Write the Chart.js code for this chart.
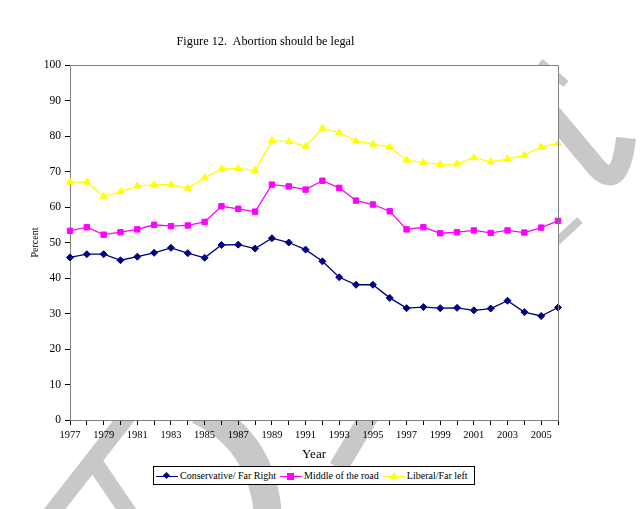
<!DOCTYPE html>
<html>
<head>
<meta charset="utf-8">
<script src="https://cdn.jsdelivr.net/npm/chart.js@4.4.1/dist/chart.umd.min.js"></script>
<style>
  body { margin: 0; background: #fff; }
  #wrap { position: relative; width: 640px; height: 509px; }
  #chart { position: absolute; left: 0; top: 0; }
  #title { position: absolute; left: 0; width: 531px; top: 34px; text-align: center;
           font: 12.3px "Liberation Serif", "Times New Roman", serif; color: #000; }
  #legend { position: absolute; left: 153px; top: 466px; width: 320px; height: 17px;
            border: 1px solid #000; background: #fff; display: flex; align-items: center;
            font: 10px "Liberation Serif", "Times New Roman", serif; color: #000; white-space: nowrap; }
  .item { display: flex; align-items: center; margin-left: 2px; margin-right: 2px; }
  .key { position: relative; width: 22px; height: 10px; margin-right: 2px; }
  .key i { position: absolute; left: 0; right: 0; top: 5px; height: 1px; }
  .key b { position: absolute; }
</style>
</head>
<body>
<div id="wrap">
  <canvas id="chart" width="640" height="509"></canvas>
  <div id="title">Figure 12.&nbsp; Abortion should be legal</div>
  <div id="legend"></div>
</div>
<script>
// -------------------- data --------------------
const years = [1977, 1978, 1979, 1980, 1981, 1982, 1983, 1984, 1985, 1986,
               1987, 1988, 1989, 1990, 1991, 1992, 1993, 1994, 1995, 1996,
               1997, 1998, 1999, 2000, 2001, 2002, 2003, 2004, 2005, 2006];
const seriesNames = ['Conservative/ Far Right', 'Middle of the road', 'Liberal/Far left'];
const conservative = [45.8, 46.7, 46.7, 45.0, 46.0, 47.1, 48.5, 47.0, 45.7, 49.3,
                      49.4, 48.3, 51.2, 50.0, 48.0, 44.7, 40.2, 38.1, 38.1, 34.4,
                      31.5, 31.8, 31.5, 31.6, 30.9, 31.4, 33.6, 30.4, 29.3, 31.7];
const middle = [53.3, 54.3, 52.2, 52.9, 53.7, 55.0, 54.6, 54.8, 55.8, 60.2,
                59.5, 58.7, 66.3, 65.8, 64.9, 67.4, 65.4, 61.8, 60.7, 58.8,
                53.7, 54.3, 52.6, 52.9, 53.4, 52.7, 53.4, 52.8, 54.2, 56.1];
const liberal = [67.0, 67.0, 63.0, 64.3, 65.9, 66.3, 66.3, 65.3, 68.2, 70.7,
                 70.8, 70.3, 78.7, 78.4, 77.1, 82.2, 80.9, 78.6, 77.7, 76.9,
                 73.2, 72.5, 72.0, 72.1, 73.9, 72.7, 73.5, 74.6, 76.9, 77.9];

const serif = '"Liberation Serif", "Times New Roman", serif';
const styles = [
  { color: '#000080', point: 'rectRot', radius: 3.5 },
  { color: '#FF00FF', point: 'rect', radius: 3.8 },
  { color: '#FFFF00', point: 'triangle', radius: 4 },
];

// grey watermark behind the chart, hidden by the white plot area
const watermark = {
  id: 'watermark',
  beforeDraw(chart) {
    const c = chart.ctx, a = chart.chartArea;
    c.save();
    c.strokeStyle = '#c8c8c8';
    c.lineCap = 'butt';
    const seg = (w, pts) => {
      c.lineWidth = w; c.beginPath(); c.moveTo(pts[0], pts[1]);
      if (pts.length === 4) c.lineTo(pts[2], pts[3]);
      else c.quadraticCurveTo(pts[2], pts[3], pts[4], pts[5]);
      c.stroke();
    };
    seg(17, [50, 515, 136, 405]);
    seg(17, [94, 462, 130, 515]);
    seg(28, [198, 410, 262, 440, 268, 515]);
    seg(19, [374, 408, 338, 468]);
    c.lineWidth = 20; c.beginPath();
    c.moveTo(540, 100); c.lineTo(597, 168); c.quadraticCurveTo(620, 192, 626, 138); c.stroke();
    seg(8, [540, 62, 566, 84]);
    seg(8, [580, 220, 540, 257]);
    c.fillStyle = '#fff';
    c.fillRect(a.left, a.top, a.right - a.left, a.bottom - a.top);
    c.restore();
  },
  afterDraw(chart) {
    const c = chart.ctx, a = chart.chartArea;
    c.save();
    c.strokeStyle = '#808080'; c.lineWidth = 1;
    c.beginPath();
    c.moveTo(a.left, a.top + 0.5); c.lineTo(a.right + 0.5, a.top + 0.5); c.lineTo(a.right + 0.5, a.bottom);
    c.stroke();
    c.restore();
  },
};

const seriesData = [conservative, middle, liberal];
new Chart(document.getElementById('chart'), {
  type: 'line',
  data: {
    labels: years.map(String),
    datasets: seriesData.map((d, i) => ({
      label: seriesNames[i], data: d,
      borderColor: styles[i].color, backgroundColor: styles[i].color,
      borderWidth: 1.3, pointStyle: styles[i].point, pointRadius: styles[i].radius,
      pointBorderWidth: 1, tension: 0, fill: false,
    })),
  },
  options: {
    responsive: false, animation: false, devicePixelRatio: 1,
    layout: { padding: { left: 0, top: 65, right: 82, bottom: 47 } },
    plugins: { legend: { display: false }, tooltip: { enabled: false } },
    scales: {
      x: {
        offset: false,
        afterFit: s => { s.height = 42; },
        border: { color: '#808080' },
        grid: { drawOnChartArea: false, tickLength: 5, color: '#000' },
        ticks: { autoSkip: false, maxRotation: 0, padding: 4, color: '#000',
                 font: { family: serif, size: 10.5 },
                 callback: (v, i) => (i % 2 === 0 ? years[i] : '') },
        title: { display: true, text: 'Year', color: '#000', font: { family: serif, size: 13 },
                 padding: { top: 4, bottom: 0 } },
      },
      y: {
        min: 0, max: 100,
        afterFit: s => { s.width = 70; },
        border: { color: '#808080' },
        grid: { drawOnChartArea: false, tickLength: 5, color: '#000' },
        ticks: { stepSize: 10, padding: 4, color: '#000', font: { family: serif, size: 11.5 } },
        title: { display: true, text: 'Percent', color: '#000', font: { family: serif, size: 10 },
                 padding: { top: 29, bottom: 0 } },
      },
    },
  },
  plugins: [watermark],
});

// html legend
const legend = document.getElementById('legend');
seriesNames.forEach((name, i) => {
  const st = styles[i];
  const item = document.createElement('span');
  item.className = 'item';
  let mark;
  if (st.point === 'rectRot') mark = `<b style="left:8px;top:2px;width:5px;height:5px;background:${st.color};transform:rotate(45deg)"></b>`;
  else if (st.point === 'rect') mark = `<b style="left:7px;top:2px;width:7px;height:7px;background:${st.color}"></b>`;
  else mark = `<b style="left:7px;top:1px;width:0;height:0;border-left:4px solid transparent;border-right:4px solid transparent;border-bottom:7px solid ${st.color}"></b>`;
  item.innerHTML = `<span class="key"><i style="background:${st.color}"></i>${mark}</span>${name}`;
  legend.appendChild(item);
});
</script>
</body>
</html>
